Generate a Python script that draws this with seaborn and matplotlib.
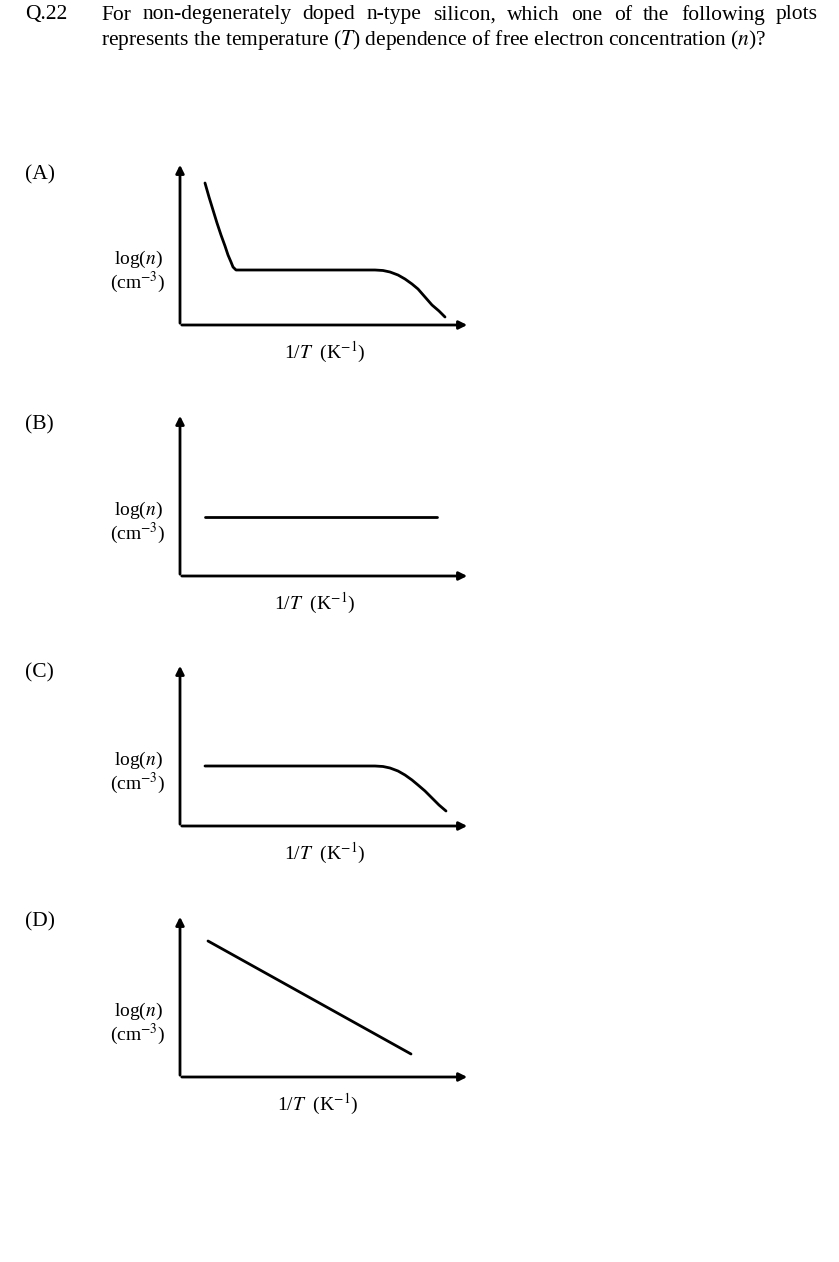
import matplotlib
matplotlib.use("Agg")
import matplotlib.pyplot as plt
import seaborn as sns

sns.set_theme(style="white")
plt.rcParams['font.family'] = ['Liberation Serif', 'DejaVu Serif']
plt.rcParams['mathtext.fontset'] = 'stix'
plt.rcParams['text.color'] = 'black'

W, H = 839, 1262
question = ["For non-degenerately doped n-type silicon, which one of the following plots",
            "represents the temperature ($T$) dependence of free electron concentration ($n$)?"]
options = ["(A)", "(B)", "(C)", "(D)"]

# curve data in axis units (origin at axis corner)
xA = [25, 29, 33, 37, 41, 45, 48, 51, 53, 56, 60, 195, 203, 210, 218, 225, 232, 238, 245, 252, 259, 265]
yA = [142, 128, 115, 102, 90, 79, 70, 63, 58, 55, 55, 55, 54.5, 53, 50, 46, 41, 36, 28, 20, 14, 8]
xB = [25, 257]
yB = [59, 59]
xC = [25, 195, 203, 210, 218, 225, 232, 238, 245, 252, 259, 266]
yC = [60, 60, 59.5, 58, 55, 51, 46, 41, 35, 28, 21, 15]
xD = [28, 231]
yD = [136, 23]
curves = [(xA, yA), (xB, yB), (xC, yC), (xD, yD)]

origins_y = [325, 576, 826, 1077]
label_y = [175, 425, 673, 922]
xlabel_x = [325, 315, 325, 318]

fig = plt.figure(figsize=(W/100, H/100), dpi=100)
FS = 15.5
fig.text(25/W, 1-15/H, "Q.22", fontsize=FS, va='center')

# justified first line
words = question[0].split()
renderer = fig.canvas.get_renderer()
txts = [fig.text(0, 1-15/H, w, fontsize=FS, va='center') for w in words]
widths = [t.get_window_extent(renderer).width for t in txts]
left, right = 101, 818
gap = (right - left - sum(widths)) / (len(words) - 1)
x = left
for t, w in zip(txts, widths):
    t.set_x(x / W)
    x += w + gap
fig.text(101/W, 1-40/H, question[1], fontsize=FS, va='center')

for i, (xs, ys) in enumerate(curves):
    oy = origins_y[i]
    ax = fig.add_axes([180/W, (H-oy)/H, 290/W, 165/H])
    ax.set_xlim(0, 290)
    ax.set_ylim(0, 165)
    ax.axis('off')
    sns.lineplot(x=xs, y=ys, ax=ax, color='black', lw=2, sort=False, estimator=None)
    ax.annotate('', xy=(290, 0), xytext=(-1, 0), annotation_clip=False,
                arrowprops=dict(arrowstyle='-|>', color='black', lw=2, mutation_scale=12))
    ax.annotate('', xy=(0, 163), xytext=(0, -1), annotation_clip=False,
                arrowprops=dict(arrowstyle='-|>', color='black', lw=2, mutation_scale=12))
    fig.text(25/W, 1-label_y[i]/H, options[i], fontsize=FS, va='center')
    fig.text(138/W, 1-(oy-66)/H, r'log($n$)', fontsize=14, ha='center', va='center')
    fig.text(138/W, 1-(oy-43)/H, r'(cm$^{-3}$)', fontsize=14, ha='center', va='center')
    fig.text(xlabel_x[i]/W, 1-(oy+27)/H, r'1/$T$  (K$^{-1}$)', fontsize=14, ha='center', va='center')

fig.savefig("out.png", dpi=100)
